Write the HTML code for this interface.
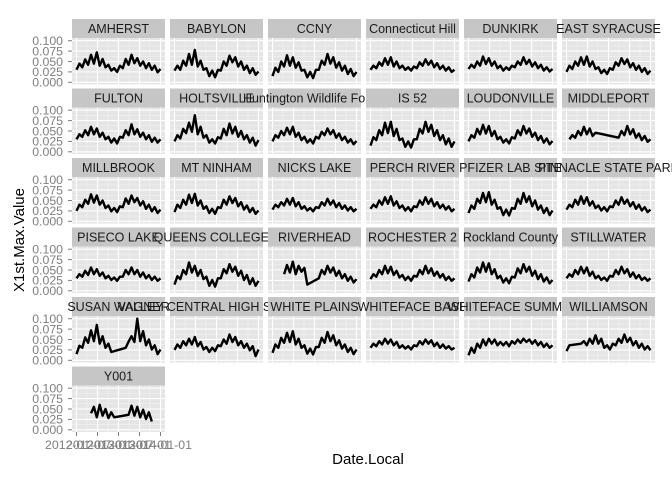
<!DOCTYPE html>
<html><head><meta charset="utf-8"><title>Faceted time series</title>
<style>html,body{margin:0;padding:0;background:#fff;}svg{display:block;font-family:"Liberation Sans",sans-serif;}</style>
</head><body>
<svg id="chart" width="672" height="480" viewBox="0 0 672 480"></svg>
<script>
const stations = ["AMHERST","BABYLON","CCNY","Connecticut Hill","DUNKIRK","EAST SYRACUSE","FULTON","HOLTSVILLE","Huntington Wildlife Forest","IS 52","LOUDONVILLE","MIDDLEPORT","MILLBROOK","MT NINHAM","NICKS LAKE","PERCH RIVER","PFIZER LAB SITE","PINNACLE STATE PARK","PISECO LAKE","QUEENS COLLEGE 2","RIVERHEAD","ROCHESTER 2","Rockland County","STILLWATER","SUSAN WAGNER","VALLEY CENTRAL HIGH SCHOOL","WHITE PLAINS","WHITEFACE BASE","WHITEFACE SUMMIT","WILLIAMSON","Y001"];
const amherst=[.030,.045,.036,.055,.042,.066,.045,.072,.040,.056,.036,.042,.028,.034,.025,.040,.034,.056,.042,.066,.046,.058,.040,.050,.034,.046,.030,.040,.024,.032];
const babylon=[.028,.040,.030,.052,.040,.068,.042,.078,.038,.052,.030,.034,.015,.028,.012,.030,.028,.050,.040,.064,.048,.060,.038,.050,.030,.040,.022,.034,.018,.026];
const ccny=[.015,.035,.025,.050,.038,.065,.040,.060,.035,.048,.028,.030,.012,.025,.010,.030,.030,.052,.042,.068,.045,.060,.035,.048,.028,.040,.020,.032,.015,.025];
const connecticutHill=[.030,.040,.034,.048,.040,.058,.042,.060,.038,.050,.034,.040,.030,.036,.028,.038,.034,.048,.040,.055,.042,.052,.036,.046,.032,.040,.028,.036,.025,.030];
const dunkirk=[.032,.042,.035,.050,.040,.062,.044,.058,.040,.050,.034,.040,.028,.036,.030,.040,.036,.050,.042,.060,.044,.054,.038,.048,.034,.042,.028,.036,.026,.032];
const eastSyracuse=[.025,.040,.032,.050,.040,.060,.042,.062,.038,.050,.032,.036,.022,.030,.020,.034,.030,.048,.040,.058,.044,.055,.036,.046,.030,.040,.025,.034,.020,.028];
const fulton=[.030,.042,.036,.052,.040,.060,.042,.056,.036,.046,.030,.036,.022,.032,.020,.036,.034,.052,.040,.066,.042,.054,.036,.046,.030,.040,.024,.034,.022,.030];
const holtsville=[.025,.040,.032,.055,.045,.070,.048,.088,.042,.060,.034,.040,.022,.030,.020,.035,.032,.055,.040,.068,.044,.060,.036,.050,.030,.040,.022,.034,.015,.028];
const huntington=[.025,.040,.034,.050,.040,.058,.042,.060,.036,.046,.028,.036,.022,.030,.020,.036,.032,.048,.040,.056,.042,.052,.034,.044,.028,.036,.022,.030,.018,.026];
const is52=[.015,.035,.028,.052,.040,.070,.045,.072,.038,.055,.028,.032,.012,.025,.010,.030,.030,.055,.044,.072,.048,.065,.038,.052,.028,.040,.018,.032,.012,.025];
const loudonville=[.025,.040,.034,.055,.042,.065,.044,.062,.038,.050,.030,.036,.022,.030,.020,.035,.032,.052,.040,.062,.044,.056,.036,.046,.028,.038,.022,.032,.018,.026];
const middleport=[null,.030,.040,.034,.050,.040,.060,.042,.056,.038,.046,null,null,null,null,null,null,null,.034,.050,.040,.062,.042,.054,.034,.044,.028,.038,.024,.030];
const millbrook=[.025,.040,.034,.052,.042,.065,.045,.062,.040,.050,.032,.038,.024,.032,.022,.036,.034,.055,.042,.062,.046,.056,.038,.048,.030,.040,.024,.034,.020,.028];
const mtNinham=[.022,.040,.032,.052,.040,.064,.044,.066,.038,.050,.030,.036,.020,.030,.018,.034,.032,.052,.040,.060,.044,.056,.036,.046,.028,.038,.022,.032,.018,.026];
const nicksLake=[.028,.040,.034,.046,.038,.054,.040,.056,.036,.046,.030,.036,.026,.032,.024,.034,.032,.046,.038,.054,.040,.050,.034,.044,.030,.038,.026,.034,.024,.030];
const perchRiver=[.030,.040,.034,.050,.040,.058,.042,.060,.038,.048,.032,.038,.026,.034,.024,.036,.034,.050,.040,.058,.042,.054,.036,.046,.032,.040,.028,.036,.024,.030];
const pfizer=[.020,.038,.030,.054,.044,.068,.046,.070,.040,.052,.030,.034,.015,.028,.014,.032,.030,.054,.042,.068,.046,.060,.036,.050,.028,.038,.020,.032,.015,.026];
const pinnacle=[.028,.040,.034,.052,.040,.060,.042,.058,.038,.048,.032,.038,.026,.034,.024,.036,.034,.050,.040,.058,.042,.052,.036,.046,.030,.040,.026,.034,.022,.028];
const piseco=[.030,.040,.034,.048,.038,.056,.040,.052,.036,.044,.030,.036,.026,.032,.024,.034,.034,.050,.040,.056,.040,.050,.034,.044,.030,.038,.026,.034,.024,.030];
const queens=[.015,.035,.028,.050,.040,.068,.044,.060,.036,.050,.028,.034,.012,.026,.010,.030,.030,.052,.042,.064,.046,.058,.036,.048,.026,.038,.016,.030,.012,.024];
const riverhead=[null,null,null,null,.040,.062,.044,.070,.040,.060,.046,.055,.015,null,null,null,.030,.050,.040,.060,.044,.056,.036,.048,.030,.040,.024,.034,.020,.028];
const rochester=[.028,.040,.034,.050,.040,.060,.042,.058,.038,.048,.032,.038,.026,.034,.024,.036,.034,.050,.040,.060,.042,.054,.036,.046,.032,.040,.026,.034,.024,.030];
const rockland=[.022,.040,.032,.056,.044,.068,.046,.066,.040,.052,.030,.036,.020,.030,.018,.034,.032,.054,.042,.064,.046,.058,.036,.048,.028,.040,.022,.032,.018,.026];
const stillwater=[.030,.040,.034,.050,.040,.058,.042,.056,.036,.046,.030,.036,.026,.032,.024,.036,.034,.050,.040,.058,.042,.052,.034,.044,.030,.038,.026,.032,.024,.030];
const susanWagner=[.015,.035,.030,.055,.042,.072,.046,.085,.040,.058,.030,.040,.020,null,null,null,null,.030,.045,.058,.044,.100,.046,.070,.036,.050,.026,.036,.015,.026];
const valleyCentral=[.025,.038,.030,.046,.036,.052,.038,.056,.034,.044,.026,.032,.020,.030,.022,.036,.034,.050,.040,.062,.044,.056,.036,.046,.030,.040,.024,.034,.010,.026];
const whitePlains=[.018,.038,.030,.054,.042,.066,.044,.070,.038,.052,.030,.036,.016,.028,.014,.032,.032,.054,.042,.068,.046,.060,.036,.048,.028,.038,.020,.030,.015,.026];
const whitefaceBase=[.030,.040,.034,.046,.038,.052,.040,.050,.036,.044,.030,.036,.028,.034,.026,.036,.034,.046,.038,.050,.040,.048,.034,.042,.030,.038,.028,.034,.026,.030];
const whitefaceSummit=[.012,.030,.018,.040,.030,.050,.036,.052,.040,.050,.036,.044,.036,.044,.034,.046,.040,.050,.042,.052,.044,.050,.040,.048,.036,.044,.032,.040,.030,.036];
const williamson=[.022,.036,null,null,null,.040,.046,.036,.052,.040,.060,.040,.052,.030,.036,.026,.040,.036,.052,.042,.062,.044,.054,.036,.046,.030,.040,.026,.034,.024];
const y001=[null,null,null,null,null,.040,.055,.030,.060,.034,.050,.028,.042,.030,null,null,null,null,.036,.058,.034,.055,.030,.048,.026,.042,.020,null,null,null];
const series=[amherst,babylon,ccny,connecticutHill,dunkirk,eastSyracuse,fulton,holtsville,huntington,is52,loudonville,middleport,millbrook,mtNinham,nicksLake,perchRiver,pfizer,pinnacle,piseco,queens,riverhead,rochester,rockland,stillwater,susanWagner,valleyCentral,whitePlains,whitefaceBase,whitefaceSummit,williamson,y001];
const yTicks=[0,0.025,0.05,0.075,0.1];
const yTickLabels=["0.000","0.025","0.050","0.075","0.100"];
const xTickLabels=["2012-01-01","2012-07-01","2013-01-01","2013-07-01","2014-01-01"];

const NS="http://www.w3.org/2000/svg";
const svg=document.getElementById('chart');
function mk(tag,attrs,parent){const e=document.createElementNS(NS,tag);for(const k in attrs)e.setAttribute(k,attrs[k]);(parent||svg).appendChild(e);return e;}
const PW=93, PH=46.5, SH=19, COLP=98, ROWP=69.5, X0=72, Y0=19;
const yMin=-0.0053, yMax=0.1065;
function yScale(v,top){return top+PH-(v-yMin)/(yMax-yMin)*PH;}
function xScale(frac,left){return left+4.5+frac*84;}

stations.forEach((name,i)=>{
  const col=i%6,row=Math.floor(i/6);
  const left=X0+col*COLP, stop=Y0+row*ROWP, top=stop+SH;
  const g=mk('g',{});
  
  
  const strip=mk('rect',{x:left,y:stop,width:PW,height:SH,fill:'#c6c6c6'},g);
  
  
  const st=mk('text',{x:left+PW/2,y:stop+14,'text-anchor':'middle','font-size':'12.5',fill:'#1a1a1a'},g);
  st.textContent=name;
  
  
  const bg=mk('rect',{x:left,y:top,width:PW,height:PH,fill:'#e5e5e5'},g);
  
  
  for(let k=0;k<4;k++){const v=(yTicks[k]+yTicks[k+1])/2;const y=yScale(v,top);mk('line',{x1:left,x2:left+PW,y1:y,y2:y,stroke:'#f2f2f2','stroke-width':0.6},g);}
  for(let k=0;k<4;k++){const x=xScale((k+0.5)/4,left);mk('line',{x1:x,x2:x,y1:top,y2:top+PH,stroke:'#f2f2f2','stroke-width':0.6},g);}
  yTicks.forEach(v=>{const y=yScale(v,top);mk('line',{x1:left,x2:left+PW,y1:y,y2:y,stroke:'#fff','stroke-width':1.1},g);});
  for(let k=0;k<5;k++){const x=xScale(k/4,left);mk('line',{x1:x,x2:x,y1:top,y2:top+PH,stroke:'#fff','stroke-width':1.1},g);}
  const vals=series[i];const n=vals.length;let d='';
  vals.forEach((v,j)=>{if(v===null)return;const x=xScale(j/(n-1),left),y=yScale(v,top);d+=(d?'L':'M')+x.toFixed(1)+' '+y.toFixed(1);});
  const p=mk('path',{d:d,fill:'none',stroke:'#000','stroke-width':2.4,'stroke-linejoin':'round'},g);
  
  
  if(col===0){
    yTicks.forEach((v,k)=>{const y=yScale(v,top);
      mk('line',{x1:left-4,x2:left,y1:y,y2:y,stroke:'#7f7f7f','stroke-width':1},g);
      const t=mk('text',{x:left-9,y:y+4.3,'text-anchor':'end','font-size':'12.3',fill:'#7f7f7f'},g);
      t.textContent=yTickLabels[k];
      
      });
  }
  if(i===stations.length-1){
    xTickLabels.forEach((lab,k)=>{const x=xScale(k/4,left);
      mk('line',{x1:x,x2:x,y1:top+PH,y2:top+PH+4,stroke:'#7f7f7f','stroke-width':1},g);
      const t=mk('text',{x:x,y:top+PH+17,'text-anchor':'middle','font-size':'12.3',fill:'#7f7f7f'},g);
      t.textContent=lab;
      
      });
  }
});
const xt=mk('text',{x:368,y:464,'text-anchor':'middle','font-size':'15',fill:'#000'});
xt.textContent='Date.Local';


const yt=mk('text',{x:0,y:0,transform:'translate(24,240) rotate(-90)','text-anchor':'middle','font-size':'15',fill:'#000'});
yt.textContent='X1st.Max.Value';


</script>
</body></html>
